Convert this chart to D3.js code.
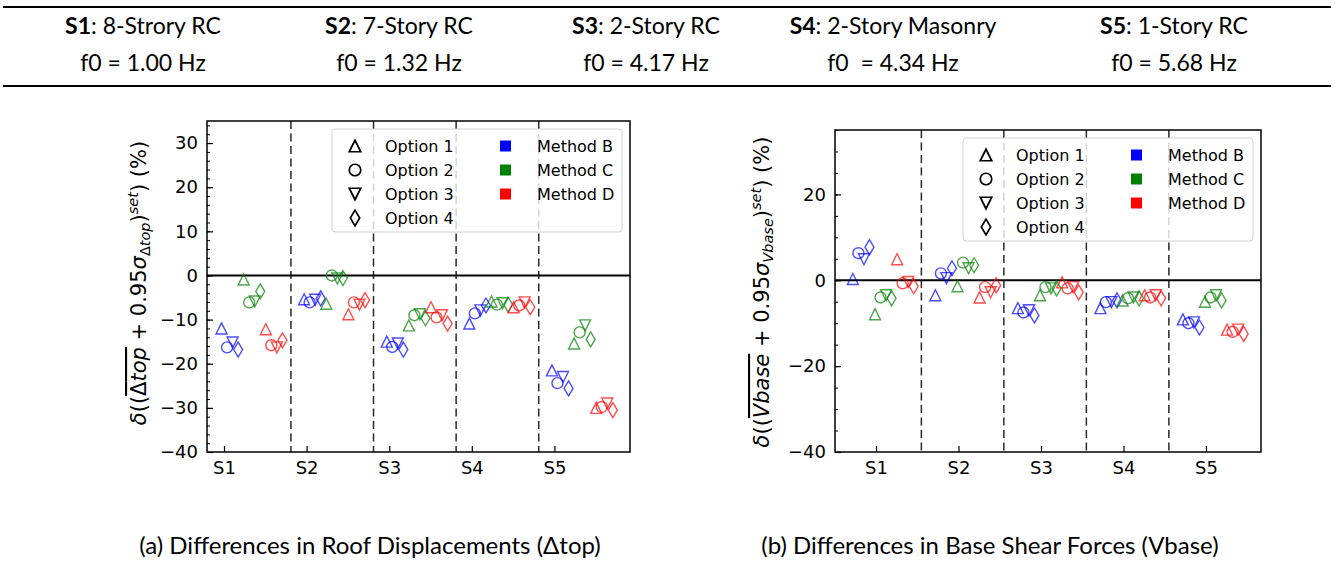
<!DOCTYPE html>
<html>
<head>
<meta charset="utf-8">
<script src="https://cdn.jsdelivr.net/npm/d3@7"></script>
<style>
  body { margin: 0; background: #fff; }
  svg { display: block; }
</style>
</head>
<body>
<svg id="fig" width="1335" height="561"></svg>
<script>
// ---- data ----
const structures = ["S1", "S2", "S3", "S4", "S5"];
const headerNames = ["8-Strory RC", "7-Story RC", "2-Story RC", "2-Story Masonry", "1-Story RC"];
const headerFreqs = ["f0 = 1.00 Hz", "f0 = 1.32 Hz", "f0 = 4.17 Hz", "f0  = 4.34 Hz", "f0 = 5.68 Hz"];

const optionNames = ["Option 1", "Option 2", "Option 3", "Option 4"];
const optionMarkers = ["triangle-up", "circle", "triangle-down", "thin-diamond"];
const methodNames = ["Method B", "Method C", "Method D"];
const methodColors = ["#0000ff", "#008000", "#ff0000"];

// rows = options 1..4, columns = S1..S5
const roofMethodB = [
    [-12.0, -5.4, -15.0, -10.9, -21.5],
    [-16.3, -6.1, -16.2, -8.6, -24.4],
    [-15.2, -5.5, -15.4, -7.9, -23.0],
    [-16.8, -5.2, -16.8, -6.8, -25.6]
];
const roofMethodC = [
    [-0.9, -6.4, -11.3, -5.9, -15.4],
    [-6.1, 0.0, -9.0, -6.6, -12.9],
    [-5.9, -0.7, -8.8, -6.3, -11.3],
    [-3.6, -0.6, -9.7, -6.6, -14.5]
];
const roofMethodD = [
    [-12.2, -8.8, -7.2, -7.2, -30.0],
    [-15.8, -6.1, -9.5, -6.8, -29.8],
    [-16.3, -6.6, -9.0, -6.1, -29.0],
    [-14.7, -5.6, -10.9, -7.2, -30.5]
];

const baseMethodB = [
    [0.3, -3.5, -6.5, -6.5, -9.1],
    [6.3, 1.6, -7.5, -5.1, -10.0],
    [4.9, 0.5, -7.0, -5.1, -9.8],
    [7.7, 2.8, -8.2, -4.7, -11.0]
];
const baseMethodC = [
    [-7.9, -1.4, -3.5, -4.7, -5.0],
    [-4.0, 4.1, -1.6, -4.2, -4.0],
    [-3.5, 2.8, -1.9, -4.0, -3.5],
    [-4.2, 3.5, -1.9, -4.2, -4.7]
];
const baseMethodD = [
    [4.9, -4.0, -0.5, -3.5, -11.5],
    [-0.7, -1.6, -1.9, -4.0, -12.0],
    [-0.4, -2.8, -1.6, -3.5, -11.5],
    [-1.4, -1.2, -2.8, -4.2, -12.5]
];

const roofYTicks = [-40, -30, -20, -10, 0, 10, 20, 30];
const baseYTicks = [-40, -20, 0, 20];

// ---- layout ----
const svg = d3.select('#fig');
const tickFont = 'DejaVu Sans, sans-serif';
const capFont = 'Lato, Carlito, sans-serif';

const panels = [
    {
        series: [roofMethodB, roofMethodC, roofMethodD],
        left: 207, right: 630, top: 121, bottom: 452,
        xDomain: [-0.206, 4.915],
        pointStart: -0.03, sepOffset: 0.81,
        yTicks: roofYTicks, minorStep: 2,
        label: 'roof', labelX: 146, labelY: 283,
        caption: '(a) Differences in Roof Displacements (\u0394top)', captionX: 370
    },
    {
        series: [baseMethodB, baseMethodC, baseMethodD],
        left: 835, right: 1261, top: 130, bottom: 452,
        xDomain: [-0.497, 4.667],
        pointStart: -0.28, sepOffset: 0.55,
        yTicks: baseYTicks, minorStep: 5,
        label: 'base', labelX: 769, labelY: 292,
        caption: '(b) Differences in Base Shear Forces (Vbase)', captionX: 990
    }
];
const pointStep = 0.067;
const markerSize = 11;

function markerPath(type, s) {
    const h = s / 2;
    if (type === 'circle') return `M${h},0A${h},${h} 0 1,1 ${-h},0A${h},${h} 0 1,1 ${h},0Z`;
    if (type === 'triangle-up') return `M0,${-h}L${h},${h}L${-h},${h}Z`;
    if (type === 'triangle-down') return `M0,${h}L${h},${-h}L${-h},${-h}Z`;
    const a = 0.68 * s, b = 0.6 * a;
    return `M0,${-a}L${b},0L0,${a}L${-b},0Z`;
}

// ---- header table ----
svg.append('line')
    .attr('x1', 3).attr('x2', 1331).attr('y1', 7).attr('y2', 7)
    .style('stroke', 'black').style('stroke-width', 2);
svg.append('line')
    .attr('x1', 3).attr('x2', 1331).attr('y1', 86).attr('y2', 86)
    .style('stroke', 'black').style('stroke-width', 2);

const headerCenters = [143, 399, 646, 893, 1174];

structures.forEach((s, i) => {
    const t = svg.append('text')
        .attr('x', headerCenters[i]).attr('y', 34)
        .style('font-family', capFont).style('font-size', '23px')
        .style('text-anchor', 'middle');
    t.append('tspan').style('font-weight', 'bold').text(s);
    t.append('tspan').text(': ' + headerNames[i]);

    svg.append('text')
        .attr('x', headerCenters[i]).attr('y', 71)
        .style('font-family', capFont).style('font-size', '23px')
        .style('text-anchor', 'middle')
        .style('white-space', 'pre')
        .text(headerFreqs[i]);
});

// ---- panels ----
panels.forEach(p => {
    const g = svg.append('g');

    const xScale = d3.scaleLinear().domain(p.xDomain).range([p.left, p.right]);
    const yScale = d3.scaleLinear().domain([-40, 35]).range([p.bottom, p.top]);

    // minor ticks
    g.append('g')
        .attr('transform', `translate(${p.left},0)`)
        .call(d3.axisLeft(yScale).tickValues(d3.range(-40, 35.01, p.minorStep)).tickSize(-3).tickFormat(''))
        .call(a => a.select('.domain').remove())
        .selectAll('line').style('stroke', 'black').style('stroke-width', 1);

    // major ticks
    const yAxis = g.append('g')
        .attr('transform', `translate(${p.left},0)`)
        .call(d3.axisLeft(yScale).tickValues(p.yTicks).tickSize(-6).tickPadding(9));
    yAxis.select('.domain').remove();
    yAxis.selectAll('line').style('stroke', 'black').style('stroke-width', 1.2);
    yAxis.selectAll('text')
        .style('font-family', tickFont).style('font-size', '18px').style('fill', 'black');

    const xAxis = g.append('g')
        .attr('transform', `translate(0,${p.bottom})`)
        .call(d3.axisBottom(xScale).tickValues(d3.range(structures.length))
            .tickFormat(i => structures[i]).tickSize(-6).tickPadding(9));
    xAxis.select('.domain').remove();
    xAxis.selectAll('line').style('stroke', 'black').style('stroke-width', 1.2);
    xAxis.selectAll('text')
        .style('font-family', tickFont).style('font-size', '18px').style('fill', 'black');

    // separators between structures
    g.selectAll('.sep')
        .data(d3.range(structures.length - 1))
        .join('line')
        .classed('sep', true)
        .attr('x1', i => xScale(i + p.sepOffset))
        .attr('x2', i => xScale(i + p.sepOffset))
        .attr('y1', p.top).attr('y2', p.bottom)
        .style('stroke', '#2a2a2a')
        .style('stroke-width', 1.5)
        .style('stroke-dasharray', '8,4.5');

    // zero line
    g.append('line')
        .attr('x1', p.left).attr('x2', p.right)
        .attr('y1', yScale(0)).attr('y2', yScale(0))
        .style('stroke', 'black').style('stroke-width', 2);

    // points
    const points = [];
    p.series.forEach((methodData, m) => {
        methodData.forEach((optData, o) => {
            optData.forEach((v, s) => {
                points.push({ s: s, m: m, o: o, v: v, j: m * 4 + o });
            });
        });
    });

    g.selectAll('.pt')
        .data(points)
        .join('path')
        .classed('pt', true)
        .attr('transform', d => `translate(${xScale(d.s + p.pointStart + d.j * pointStep)},${yScale(d.v)})`)
        .attr('d', d => markerPath(optionMarkers[d.o], markerSize))
        .style('fill', 'none')
        .style('stroke', d => methodColors[d.m])
        .style('stroke-width', 1.4)
        .style('stroke-opacity', 0.7);

    // legend
    const lgW = 290, lgH = 103;
    const lg = g.append('g')
        .attr('transform', `translate(${p.right - 8 - lgW},${p.top + 8})`);
    lg.append('rect')
        .attr('width', lgW).attr('height', lgH)
        .attr('rx', 3).attr('ry', 3)
        .style('fill', 'white').style('fill-opacity', 0.8)
        .style('stroke', '#d0d0d0').style('stroke-width', 1);

    const rowY = d3.scaleLinear().domain([0, 1]).range([17, 41]);
    optionNames.forEach((name, o) => {
        lg.append('path')
            .attr('transform', `translate(23,${rowY(o)})`)
            .attr('d', markerPath(optionMarkers[o], markerSize + 0.5))
            .style('fill', 'none').style('stroke', 'black').style('stroke-width', 1.7);
        lg.append('text')
            .attr('x', 53).attr('y', rowY(o))
            .attr('dy', '0.35em')
            .style('font-family', tickFont).style('font-size', '16px')
            .text(name);
    });
    methodNames.forEach((name, m) => {
        lg.append('rect')
            .attr('x', 168).attr('y', rowY(m) - 5.5)
            .attr('width', 11).attr('height', 11)
            .style('fill', methodColors[m]);
        lg.append('text')
            .attr('x', 205).attr('y', rowY(m))
            .attr('dy', '0.35em')
            .style('font-family', tickFont).style('font-size', '16px')
            .text(name);
    });

    // frame
    g.append('rect')
        .attr('x', p.left).attr('y', p.top)
        .attr('width', p.right - p.left).attr('height', p.bottom - p.top)
        .style('fill', 'none').style('stroke', 'black').style('stroke-width', 1.5);

    // y label
    const lab = g.append('text')
        .attr('transform', `translate(${p.labelX},${p.labelY}) rotate(-90)`)
        .style('font-family', tickFont).style('font-size', '21px')
        .style('text-anchor', 'middle');
    const it = (txt) => lab.append('tspan').style('font-style', 'italic').text(txt);
    const rm = (txt) => lab.append('tspan').text(txt);

    it('\u03b4');
    rm('((');
    if (p.label === 'roof') {
        const ov = lab.append('tspan').style('text-decoration', 'overline');
        ov.append('tspan').text('\u0394');
        ov.append('tspan').style('font-style', 'italic').text('top');
    } else {
        lab.append('tspan').style('text-decoration', 'overline').style('font-style', 'italic').text('Vbase');
    }
    rm(' + 0.95');
    it('\u03c3');
    const sub = lab.append('tspan').attr('dy', 4).style('font-size', '14.5px');
    if (p.label === 'roof') {
        sub.text('\u0394');
        lab.append('tspan').style('font-size', '14.5px').style('font-style', 'italic').text('top');
    } else {
        sub.style('font-style', 'italic').text('Vbase');
    }
    lab.append('tspan').attr('dy', -4).text(')');
    lab.append('tspan').attr('dy', -8).style('font-size', '14.5px').style('font-style', 'italic').text('set');
    lab.append('tspan').attr('dy', 8).text(')');
    rm(' (%)');

    // caption
    svg.append('text')
        .attr('x', p.captionX).attr('y', 554)
        .style('font-family', capFont).style('font-size', '24px')
        .style('text-anchor', 'middle')
        .text(p.caption);
});
</script>
</body>
</html>
